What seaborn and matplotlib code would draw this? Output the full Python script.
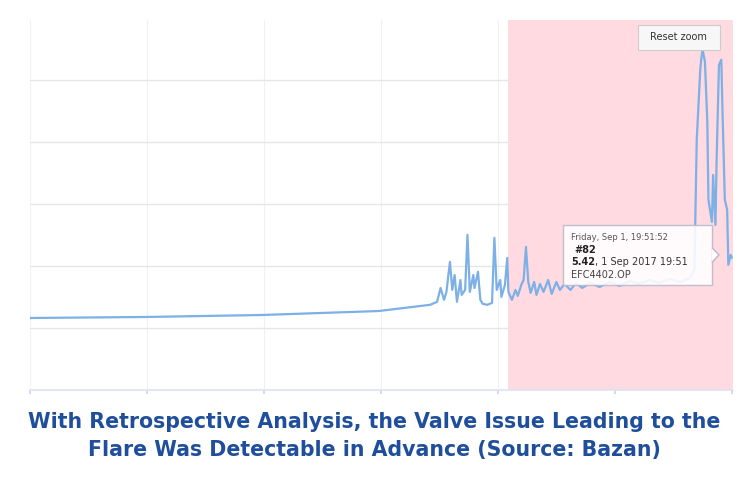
import matplotlib
matplotlib.use("Agg")
import numpy as np
import pandas as pd
import matplotlib.pyplot as plt
import seaborn as sns
from matplotlib.patches import Rectangle, Polygon

# =========================================
# DATA
# =========================================
# x: time in days from window start, y: EFC4402.OP value
time_days = [0.00, 0.98, 1.98, 2.98, 3.42, 3.48, 3.51, 3.54, 3.56, 3.59,
             3.61, 3.63, 3.65, 3.68, 3.69, 3.72, 3.74, 3.76, 3.79, 3.80,
             3.83, 3.85, 3.87, 3.91, 3.95, 3.97, 3.99, 4.02, 4.03, 4.06,
             4.08, 4.09, 4.12, 4.15, 4.17, 4.20, 4.22, 4.24, 4.26, 4.28,
             4.31, 4.33, 4.36, 4.39, 4.43, 4.46, 4.50, 4.53, 4.57, 4.62,
             4.67, 4.72, 4.79, 4.87, 4.96, 5.04, 5.13, 5.21, 5.30, 5.38,
             5.47, 5.56, 5.64, 5.68, 5.70, 5.73, 5.74, 5.75, 5.77, 5.79,
             5.80, 5.83, 5.84, 5.86, 5.87, 5.89, 5.91, 5.92, 5.94, 5.96,
             5.97, 5.99, 6.00]
op_value = [2.90, 2.94, 3.02, 3.18, 3.43, 3.55, 4.11, 3.63, 3.95, 5.16,
            4.03, 4.63, 3.55, 4.43, 3.83, 4.03, 6.25, 3.95, 4.63, 4.11,
            4.76, 3.63, 3.47, 3.43, 3.51, 6.13, 4.03, 4.43, 3.75, 4.23,
            5.32, 3.95, 3.63, 4.03, 3.79, 4.23, 4.43, 5.76, 4.35, 3.91,
            4.35, 3.83, 4.27, 3.95, 4.43, 3.87, 4.35, 4.03, 4.27, 4.03,
            4.31, 4.11, 4.31, 4.15, 4.35, 4.19, 4.39, 4.27, 4.43, 4.31,
            4.47, 4.35, 4.51, 4.84, 10.08, 12.90, 13.38, 13.70, 13.22, 10.88,
            7.66, 6.77, 8.66, 6.65, 9.27, 13.10, 13.30, 11.28, 7.66, 7.26,
            5.04, 5.44, 5.32]

flare_window = [4.085, 6.01]   # highlighted (pink) period
grid_x = [0, 1, 2, 3, 4, 5, 6]
grid_y = [2.5, 5.0, 7.5, 10.0, 12.5]

tooltip_date = "Friday, Sep 1, 19:51:52"
tooltip_id = "#82"
tooltip_value = "5.42"
tooltip_rest = ", 1 Sep 2017 19:51"
tooltip_tag = "EFC4402.OP"
title_text = ("With Retrospective Analysis, the Valve Issue Leading to the\n"
              "Flare Was Detectable in Advance (Source: Bazan)")

df = pd.DataFrame({"time": time_days, "value": op_value})

# =========================================
# PLOT
# =========================================
sns.set_theme(style="white")
plt.rcParams["font.family"] = ["DejaVu Sans"]

fig = plt.figure(figsize=(7.48, 4.92), dpi=100)
ax = fig.add_axes([30 / 748, 1 - 390 / 492, 703 / 748, 370 / 492])

# grid first, then the flare band on top of it (band hides the grid)
for gx in grid_x:
    ax.axvline(gx, color="#f1f1f5", lw=0.8, zorder=0.5)
for gy in grid_y:
    ax.axhline(gy, color="#e6e6e6", lw=1.0, zorder=0.5)
ax.axvspan(flare_window[0], flare_window[1], color="#ffdae1", zorder=1, lw=0)

sns.lineplot(data=df, x="time", y="value", ax=ax, color="#7cb0e6",
             linewidth=1.6, zorder=3, estimator=None)

ax.set_xlim(0, 6.01)
ax.set_ylim(0, 14.9)
ax.set_xticks(grid_x)
ax.set_yticks([])
ax.tick_params(axis="x", length=3, color="#ccd6eb", labelbottom=False, bottom=True)
ax.set_xlabel("")
ax.set_ylabel("")
for s in ["top", "right", "left"]:
    ax.spines[s].set_visible(False)
ax.spines["bottom"].set_color("#dde3f0")
ax.spines["bottom"].set_linewidth(1.2)

# tooltip
ax.add_patch(Rectangle((0.758, 0.284), 0.212, 0.162, transform=ax.transAxes,
                       facecolor="white", alpha=0.88, edgecolor="#b8b8c8",
                       lw=1.0, zorder=5))
ax.add_patch(Polygon([[0.970, 0.345], [0.980, 0.365], [0.970, 0.385]],
                     closed=False, transform=ax.transAxes, facecolor="white",
                     edgecolor="#b8b8c8", lw=1.0, zorder=5))
ax.text(0.770, 0.413, tooltip_date, transform=ax.transAxes, fontsize=6,
        color="#555555", va="center", zorder=6)
ax.text(0.774, 0.378, tooltip_id, transform=ax.transAxes, fontsize=7,
        color="#222222", fontweight="bold", va="center", zorder=6)
val = ax.text(0.770, 0.346, tooltip_value, transform=ax.transAxes, fontsize=7,
              color="#222222", fontweight="bold", va="center", zorder=6)
ax.annotate(tooltip_rest, xy=(1.0, 0.5), xycoords=val, fontsize=7,
            color="#333333", va="center", ha="left", zorder=6)
ax.text(0.770, 0.311, tooltip_tag, transform=ax.transAxes, fontsize=7,
        color="#444444", va="center", zorder=6)

# reset zoom button
ax.add_patch(Rectangle((0.865, 0.919), 0.116, 0.067, transform=ax.transAxes,
                       facecolor="#f7f7f7", edgecolor="#cccccc", lw=0.8, zorder=5))
ax.text(0.923, 0.953, "Reset zoom", transform=ax.transAxes, fontsize=7,
        color="#333333", ha="center", va="center", zorder=6)

fig.text(0.50, 0.114, title_text, ha="center", va="center", fontsize=14.8,
         fontweight="bold", color="#1f4f9c", linespacing=1.45)

fig.savefig("out.png", dpi=100)
